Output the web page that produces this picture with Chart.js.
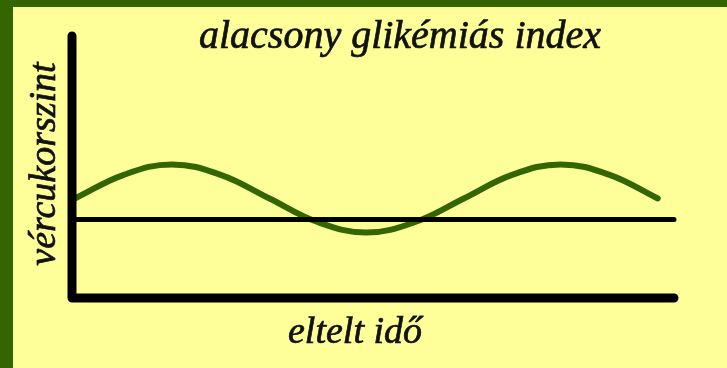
<!DOCTYPE html>
<html>
<head>
<meta charset="utf-8">
<script src="https://cdn.jsdelivr.net/npm/chart.js@4.4.1/dist/chart.umd.min.js"></script>
<style>
    html, body { margin: 0; padding: 0; background: #ffff99; }
    #wrap { width: 727px; height: 368px; position: relative; }
</style>
</head>
<body>
<div id="wrap"><canvas id="giChart"></canvas></div>
<script>
// blood sugar over time, low glycemic index food
const timePoints = [0.5, 8.6, 16.6, 24.7, 32.8, 40.8, 48.9, 57.0, 65.1, 73.1, 81.2, 89.3, 97.3];
const sugarLevels = [38, 47, 51, 47, 38, 29, 25, 29, 38, 47, 51, 47, 38];
const baselineLevel = 30;
const titleText = 'alacsony glikémiás index';
const xAxisLabel = 'eltelt idő';
const yAxisLabel = 'vércukorszint';

const green = '#336600';

// frame strips on the left and top, plus the yellow paper
const framePlugin = {
    id: 'frame',
    beforeDraw(chart) {
        const ctx = chart.ctx;
        ctx.save();
        ctx.fillStyle = '#ffff99';
        ctx.fillRect(0, 0, chart.width, chart.height);
        ctx.fillStyle = green;
        ctx.fillRect(0, 0, 13, chart.height);
        ctx.fillRect(0, 0, chart.width, 7);
        ctx.restore();
    }
};

// the hand-lettered labels, slightly heavier than the plain italic
function heavyText(ctx, text, x, y) {
    ctx.fillText(text, x, y);
    ctx.strokeText(text, x, y);
}

const labelsPlugin = {
    id: 'labels',
    afterDraw(chart) {
        const ctx = chart.ctx;
        ctx.save();
        ctx.fillStyle = '#111';
        ctx.strokeStyle = '#111';
        ctx.lineWidth = 0.7;
        ctx.textAlign = 'center';
        ctx.textBaseline = 'alphabetic';
        ctx.font = 'italic 40px "Liberation Serif"';
        heavyText(ctx, titleText, 400, 48);
        ctx.font = 'italic 38px "Liberation Serif"';
        heavyText(ctx, xAxisLabel, 355, 343);
        ctx.translate(55, 164);
        ctx.rotate(-Math.PI / 2);
        heavyText(ctx, yAxisLabel, 0, 0);
        ctx.restore();
    }
};

new Chart(document.getElementById('giChart'), {
    type: 'line',
    data: {
        datasets: [
            {
                label: 'tengelyek',
                data: [{x: 0, y: 100}, {x: 0, y: 0}, {x: 100, y: 0}],
                borderColor: '#000',
                borderWidth: 9,
                borderCapStyle: 'round',
                borderJoinStyle: 'round',
                pointRadius: 0,
                tension: 0,
                clip: false
            },
            {
                label: 'alapszint',
                data: [{x: 0, y: baselineLevel}, {x: 100, y: baselineLevel}],
                borderColor: '#000',
                borderWidth: 5,
                borderCapStyle: 'round',
                pointRadius: 0,
                clip: false
            },
            {
                label: yAxisLabel,
                data: timePoints.map((t, i) => ({x: t, y: sugarLevels[i]})),
                borderColor: green,
                borderWidth: 6,
                borderCapStyle: 'round',
                pointRadius: 0,
                tension: 0.4,
                clip: false
            }
        ]
    },
    options: {
        responsive: true,
        maintainAspectRatio: false,
        animation: false,
        layout: {
            padding: {left: 72, right: 53, top: 36, bottom: 70}
        },
        plugins: {
            legend: {display: false},
            tooltip: {enabled: false}
        },
        scales: {
            x: {type: 'linear', min: 0, max: 100, display: false},
            y: {min: 0, max: 100, display: false}
        }
    },
    plugins: [framePlugin, labelsPlugin]
});
</script>
</body>
</html>
